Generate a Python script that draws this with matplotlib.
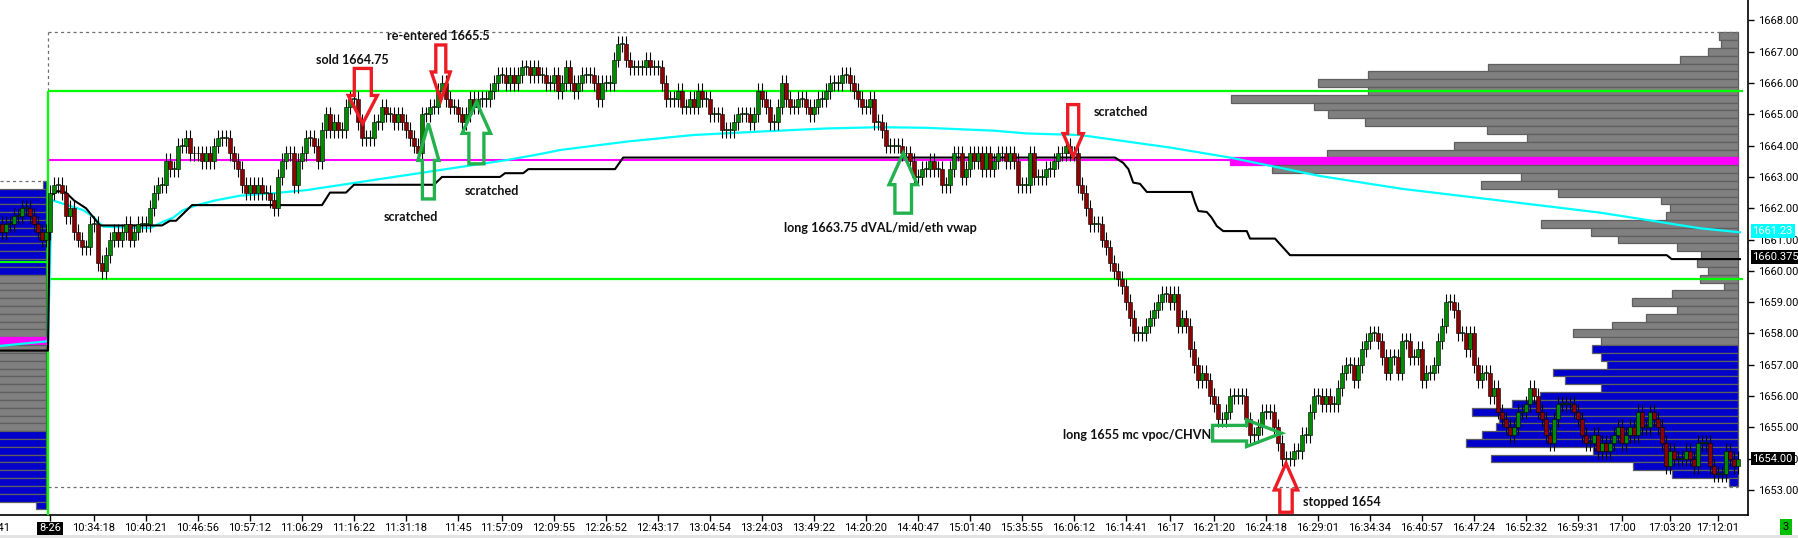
import numpy as np
import matplotlib
matplotlib.use("Agg")
import matplotlib.pyplot as plt
import matplotlib.transforms as mtransforms
from matplotlib.patches import Polygon

TICK = 0.25
BASE = 1650.0

# ---- candles: closes in ticks above 1650 (open = previous close) ----
prior_open_tick = 46
prior_close_ticks = [45, 46, 46, 47, 47, 48, 48, 47, 46, 45, 44, 45]
session_close_ticks = [
    50, 51, 51, 50, 47, 48, 45, 44, 43, 43,
    46, 46, 41, 40, 42, 44, 45, 44, 45, 46,
    44, 45, 46, 46, 46, 48, 50, 51, 51, 54,
    53, 53, 56, 56, 57, 55, 55, 55, 54, 55,
    54, 56, 57, 57, 57, 55, 54, 53, 51, 50,
    51, 50, 51, 50, 50, 49, 48, 52, 54, 55,
    55, 51, 54, 55, 57, 57, 56, 54, 58, 60,
    58, 59, 58, 58, 61, 62, 62, 59, 57, 57,
    57, 59, 59, 61, 60, 60, 59, 60, 59, 58,
    57, 56, 55, 60, 60, 61, 61, 63, 64, 62,
    61, 61, 60, 59, 60, 62, 61, 62, 62, 62,
    63, 64, 65, 65, 64, 65, 64, 65, 66, 66,
    65, 66, 65, 65, 64, 64, 65, 63, 64, 66,
    64, 63, 64, 65, 65, 65, 64, 62, 64, 64,
    64, 67, 69, 69, 67, 66, 66, 66, 66, 67,
    66, 66, 66, 64, 62, 62, 62, 63, 61, 61,
    62, 61, 63, 62, 62, 60, 60, 60, 58, 58,
    58, 59, 60, 60, 60, 59, 60, 63, 62, 61,
    59, 59, 61, 64, 62, 61, 61, 62, 62, 61,
    60, 61, 62, 62, 63, 64, 64, 64, 65, 65,
    64, 63, 62, 61, 61, 62, 59, 59, 58, 56,
    56, 56, 56, 55, 55, 54, 52, 52, 53, 53,
    54, 53, 53, 51, 51, 53, 55, 55, 52, 53,
    55, 54, 55, 53, 55, 53, 54, 55, 55, 54,
    55, 54, 51, 51, 51, 55, 52, 52, 52, 53,
    53, 54, 55, 55, 56, 55, 55, 51, 50, 48,
    46, 46, 46, 44, 43, 41, 40, 39, 38, 36,
    34, 32, 32, 32, 33, 34, 35, 36, 37, 37,
    36, 37, 33, 34, 33, 30, 28, 26, 27, 26,
    24, 23, 21, 21, 22, 24, 24, 24, 24, 21,
    19, 19, 20, 22, 22, 22, 20, 18, 16, 16,
    16, 17, 17, 19, 19, 22, 24, 24, 23, 24,
    23, 23, 25, 27, 28, 28, 26, 28, 30, 31,
    32, 32, 31, 29, 27, 29, 29, 27, 31, 31,
    29, 29, 30, 26, 27, 27, 28, 31, 33, 36,
    36, 35, 32, 32, 30, 32, 28, 26, 27, 27,
    24, 25, 22, 21, 20, 19, 20, 22, 22, 23,
    25, 24, 22, 21, 19, 18, 21, 23, 23, 23,
    23, 22, 21, 19, 18, 18, 19, 17, 18, 17,
    18, 19, 20, 18, 19, 20, 19, 22, 20, 20,
    22, 21, 20, 18, 15, 17, 16, 16, 16, 17,
    16, 15, 18, 18, 18, 15, 14, 14, 14, 17,
    16, 15, 16,
]

# ---- x axis labels (bar index, text) ----
xtick_bars = [0, 11, 24, 37, 50, 63, 76, 89, 102, 113, 126, 139, 152, 165, 178,
              191, 204, 217, 230, 243, 256, 269, 280, 291, 304, 317, 330, 343,
              356, 369, 382, 393, 405, 417]
xtick_text = ["8-26", "10:34:18", "10:40:21", "10:46:56", "10:57:12", "11:06:29",
              "11:16:22", "11:31:18", "11:45", "11:57:09", "12:09:55", "12:26:52",
              "12:43:17", "13:04:54", "13:24:03", "13:49:22", "14:20:20", "14:40:47",
              "15:01:40", "15:35:55", "16:06:12", "16:14:41", "16:17", "16:21:20",
              "16:24:18", "16:29:01", "16:34:34", "16:40:57", "16:47:24", "16:52:32",
              "16:59:31", "17:00", "17:03:20", "17:12:01"]

# ---- developing line (black) and vwap (cyan), knots ----
dev_bars = [-12.5, -0.5, 0, 2, 4, 6, 9, 12.5, 28, 30, 31.5, 35.5, 68, 70, 74, 76,
            96, 98, 112.5, 113.75, 118.3, 119.6, 141.25, 143.3, 266.25, 268.3,
            269.6, 270.8, 272.5, 274.2, 285.4, 286.25, 287.1, 289.2, 290.4, 291.7,
            293.3, 299.2, 300, 306.25, 310, 404.2, 405.4, 422.5]
dev_prices = [1657.45, 1657.45, 1662.4, 1662.55, 1662.5, 1662.25, 1662.0, 1661.45,
              1661.45, 1661.6, 1661.6, 1662.1, 1662.1, 1662.5, 1662.5, 1662.75,
              1662.75, 1663.0, 1663.0, 1663.12, 1663.12, 1663.25, 1663.25, 1663.62,
              1663.62, 1663.45, 1663.25, 1662.82, 1662.78, 1662.52, 1662.52, 1662.18,
              1661.91, 1661.88, 1661.7, 1661.43, 1661.27, 1661.27, 1661.03, 1661.03,
              1660.5, 1660.5, 1660.375, 1660.375]

vwap_bars = [-12.5, -0.5, 0.4, 8.3, 10.8, 13.3, 25, 28.3, 30.8, 33.3, 36.7, 41.7,
             47.5, 55.8, 64.2, 72.5, 80.8, 89.2, 97.5, 105.8, 114.2, 122.5, 127.5,
             144.2, 160.8, 177.5, 194.2, 207.5, 219.2, 235.8, 244.2, 257.5, 280,
             295, 317.5, 338, 359, 387.5, 412.5, 422.5]
vwap_prices = [1657.6, 1657.75, 1662.26, 1661.94, 1661.73, 1661.41, 1661.36, 1661.57,
               1661.7, 1661.94, 1662.1, 1662.26, 1662.4, 1662.48, 1662.58, 1662.74,
               1662.9, 1663.06, 1663.22, 1663.38, 1663.54, 1663.73, 1663.86, 1664.13,
               1664.34, 1664.45, 1664.55, 1664.59, 1664.57, 1664.48, 1664.39, 1664.34,
               1663.94, 1663.62, 1663.03, 1662.62, 1662.3, 1661.86, 1661.36, 1661.23]

# ---- levels ----
va_high, va_low = 1665.75, 1659.75
poc_line = 1663.55
day_high_line, day_low_line = 1667.62, 1653.1
prior_va_line = 1660.28
prior_top_line = 1662.87

# ---- session volume profile (top row first, 0.25 steps) ----
profile_top = 1667.5
profile_volume = [19, 17, 30, 58, 250, 370, 420, 370, 507, 424, 410, 373, 251, 211,
                  284, 411, 508, 466, 217, 257, 180, 77, 68, 72, 197, 147, 120, 61,
                  37, 41, 30, 38, 14, 66, 106, 61, 92, 126, 165, 137, 146, 137, 131,
                  185, 173, 137, 198, 226, 266, 239, 242, 256, 272, 145, 247, 105,
                  66, 9]
profile_poc = 1663.5
profile_gray_low = 1657.75

# ---- prior session profile ----
prior_profile_top = 1662.75
prior_profile_volume = [3] + [80] * 40 + [10]
prior_poc = 1657.75
prior_gray = (1655.0, 1659.75)

# ---- trades ----
trade_bars = [78.2, 97.7, 94.6, 106.6, 213.3, 255.8, 307.9, 309.0]
trade_prices = [1664.71, 1665.46, 1664.71, 1665.4, 1663.76, 1663.65, 1654.81, 1653.85]
trade_dirs = ["down", "down", "up", "up", "up", "down", "right", "up"]
trade_colors = ["red", "red", "green", "green", "green", "red", "green", "red"]
# arrow geometry in pixels: total length, head length, head half width, shaft half width
arrow_size = [(55, 28, 14.5, 8.5), (55, 28, 9.5, 5), (75.5, 37, 10.5, 6),
              (62, 31.5, 14.2, 7.5), (60, 31.5, 14.2, 8.3), (52, 23, 10, 5.5),
              (69, 35, 13.3, 7.8), (49, 26.7, 11.7, 6.2)]

notes = ["sold 1664.75", "re-entered 1665.5", "scratched", "scratched",
         "long 1663.75 dVAL/mid/eth vwap", "scratched", "long 1655 mc vpoc/CHVN",
         "stopped 1654"]
note_pos = [(75.6, 1666.74, "center"), (97.2, 1667.51, "center"), (90.1, 1661.72, "center"),
            (110.5, 1662.55, "center"), (207.5, 1661.36, "center"), (267.8, 1665.06, "center"),
            (290.2, 1654.75, "right"), (323.0, 1652.62, "center")]

# ---------------------------------------------------------------------------
RED = "#ed1c24"
GREEN = "#22b14c"
arrow_color = {"red": RED, "green": GREEN}

fig = plt.figure(figsize=(17.99, 5.38), dpi=100)
ax = fig.add_axes([0, 23 / 538, 1748 / 1799, 515 / 538])
ax.set_xlim(-12.5, 424.5)
ax.set_ylim(1652.196, 1668.655)

# candles
closes = BASE + TICK * np.array(prior_close_ticks + session_close_ticks, dtype=float)
bars = np.arange(-len(prior_close_ticks), len(session_close_ticks))
opens = np.concatenate([[BASE + TICK * prior_open_tick], closes[:-1]])
highs = np.maximum(opens, closes) + TICK
lows = np.minimum(opens, closes) - TICK
up = closes >= opens

# profiles (drawn first)
prof_prices = profile_top - TICK * np.arange(len(profile_volume))
pv = np.array(profile_volume) / 4.0
prof_colors = ["#ff00ff" if p == profile_poc else ("#808080" if p >= profile_gray_low else "#0000cc")
               for p in prof_prices]
prof_edges = ["#ff00ff" if p == profile_poc else "#5f5f5f" for p in prof_prices]
ax.barh(prof_prices, pv, left=422.0 - pv, height=TICK, color=prof_colors,
        edgecolor=prof_edges, linewidth=0.9, zorder=1)

pp_prices = prior_profile_top - TICK * np.arange(len(prior_profile_volume))
ppv = np.array(prior_profile_volume) / 4.0
pp_colors = ["#ff00ff" if p == prior_poc else
             ("#808080" if prior_gray[0] <= p <= prior_gray[1] else "#0000cc") for p in pp_prices]
pp_edges = ["#ff00ff" if p == prior_poc else "#5f5f5f" for p in pp_prices]
ax.barh(pp_prices, ppv, left=-1.0 - ppv, height=TICK, color=pp_colors,
        edgecolor=pp_edges, linewidth=0.9, zorder=1)

# level lines
ax.hlines([va_high, va_low], -0.5, 423.2, color="#00ff00", lw=1.6, zorder=3)
ax.vlines(-0.5, 1652.196, va_high, color="#00ff00", lw=1.6, zorder=3)
ax.hlines(prior_va_line, -12.5, -0.5, color="#00ff00", lw=1.6, zorder=3)
ax.hlines(poc_line, -0.25, 422, color="#ff00ff", lw=1.5, zorder=3)
ax.hlines([day_high_line, day_low_line], -0.5, 422, color="#707070", lw=0.9,
          linestyles=(0, (2.5, 2.5)), zorder=2)
ax.vlines(-0.5, va_high, day_high_line, color="#707070", lw=0.9,
          linestyles=(0, (2.5, 2.5)), zorder=2)
ax.hlines(prior_top_line, -12.5, -1.0, color="#707070", lw=0.9,
          linestyles=(0, (2.5, 2.5)), zorder=2)

ax.plot(vwap_bars, vwap_prices, color="#00ffff", lw=1.6, zorder=4)
ax.plot(dev_bars, dev_prices, color="black", lw=1.5, zorder=4)

# candles on top
ax.vlines(bars, lows, highs, color="black", lw=0.8, zorder=5)
body_h = np.maximum(np.abs(closes - opens), 0.03)
ax.bar(bars, body_h, bottom=np.minimum(opens, closes), width=0.8,
       color=np.where(up, "#008a00", "#8b0000"), edgecolor="black", linewidth=0.4, zorder=6)

# trade arrows
for bx, by, d, c, (L, hl, hw, sw) in zip(trade_bars, trade_prices, trade_dirs,
                                          trade_colors, arrow_size):
    pts = [(0, 0), (hw, hl), (sw, hl), (sw, L), (-sw, L), (-sw, hl), (-hw, hl)]
    if d == "up":
        pts = [(a, -b) for a, b in pts]
    elif d == "right":
        pts = [(-b, a) for a, b in pts]
    trans = fig.dpi_scale_trans + mtransforms.ScaledTranslation(bx, by, ax.transData)
    ax.add_patch(Polygon([(a / 100, b / 100) for a, b in pts], closed=True, fill=False,
                         edgecolor=arrow_color[c], lw=2.4, joinstyle="miter",
                         transform=trans, zorder=7, clip_on=False))

for txt, (nx, ny, ha) in zip(notes, note_pos):
    ax.text(nx, ny, txt, ha=ha, va="center", fontsize=9.1, family="Lato",
            weight="bold", color="#111111", zorder=8)

# axes styling
for s in ("top", "left"):
    ax.spines[s].set_visible(False)
ax.spines["right"].set_linewidth(1.2)
ax.spines["bottom"].set_linewidth(1.2)
ax.yaxis.tick_right()
ax.set_yticks(np.arange(1653, 1669))
ax.set_yticklabels([f"{v:.2f}" for v in np.arange(1653, 1669)])
ax.set_xticks(xtick_bars)
ax.set_xticklabels(xtick_text)
ax.tick_params(axis="both", direction="out", length=4, width=1, labelsize=8,
               colors="black")
ax.tick_params(axis="y", pad=3)
ax.tick_params(axis="x", pad=2)
for lab in ax.get_xticklabels() + ax.get_yticklabels():
    lab.set_family("Roboto")
first = ax.get_xticklabels()[0]
first.set_color("white")
first.set_bbox(dict(facecolor="black", edgecolor="none", pad=1.2))

ylab = ax.get_yaxis_transform()
ax.text(1.0025, 1661.28, "1661.23", transform=ylab, ha="left", va="center", fontsize=8,
        family="Roboto", color="white", zorder=9, clip_on=False,
        bbox=dict(facecolor="#00ffff", edgecolor="none", pad=1.3))
ax.text(1.0025, 1660.45, "1660.375", transform=ylab, ha="left", va="center", fontsize=8,
        family="Roboto", color="white", zorder=9, clip_on=False,
        bbox=dict(facecolor="black", edgecolor="none", pad=1.3))
ax.text(1.0025, 1654.0, "1654.00", transform=ylab, ha="left", va="center", fontsize=8,
        family="Roboto", color="white", zorder=9, clip_on=False,
        bbox=dict(facecolor="black", edgecolor="none", pad=1.3))

fig.text(10 / 1799, 1 - 528 / 538, "16:15:41", ha="right", va="center", fontsize=8,
         family="Roboto")
fig.text(1786 / 1799, 1 - 527 / 538, "3", ha="center", va="center", fontsize=8,
         family="Roboto", bbox=dict(facecolor="#00c000", edgecolor="none", pad=2))
fig.patches.append(plt.Rectangle((0, 0), 1, 3 / 538, transform=fig.transFigure,
                                 facecolor="#e3e3e3", edgecolor="none"))

fig.savefig("out.png", dpi=100)
